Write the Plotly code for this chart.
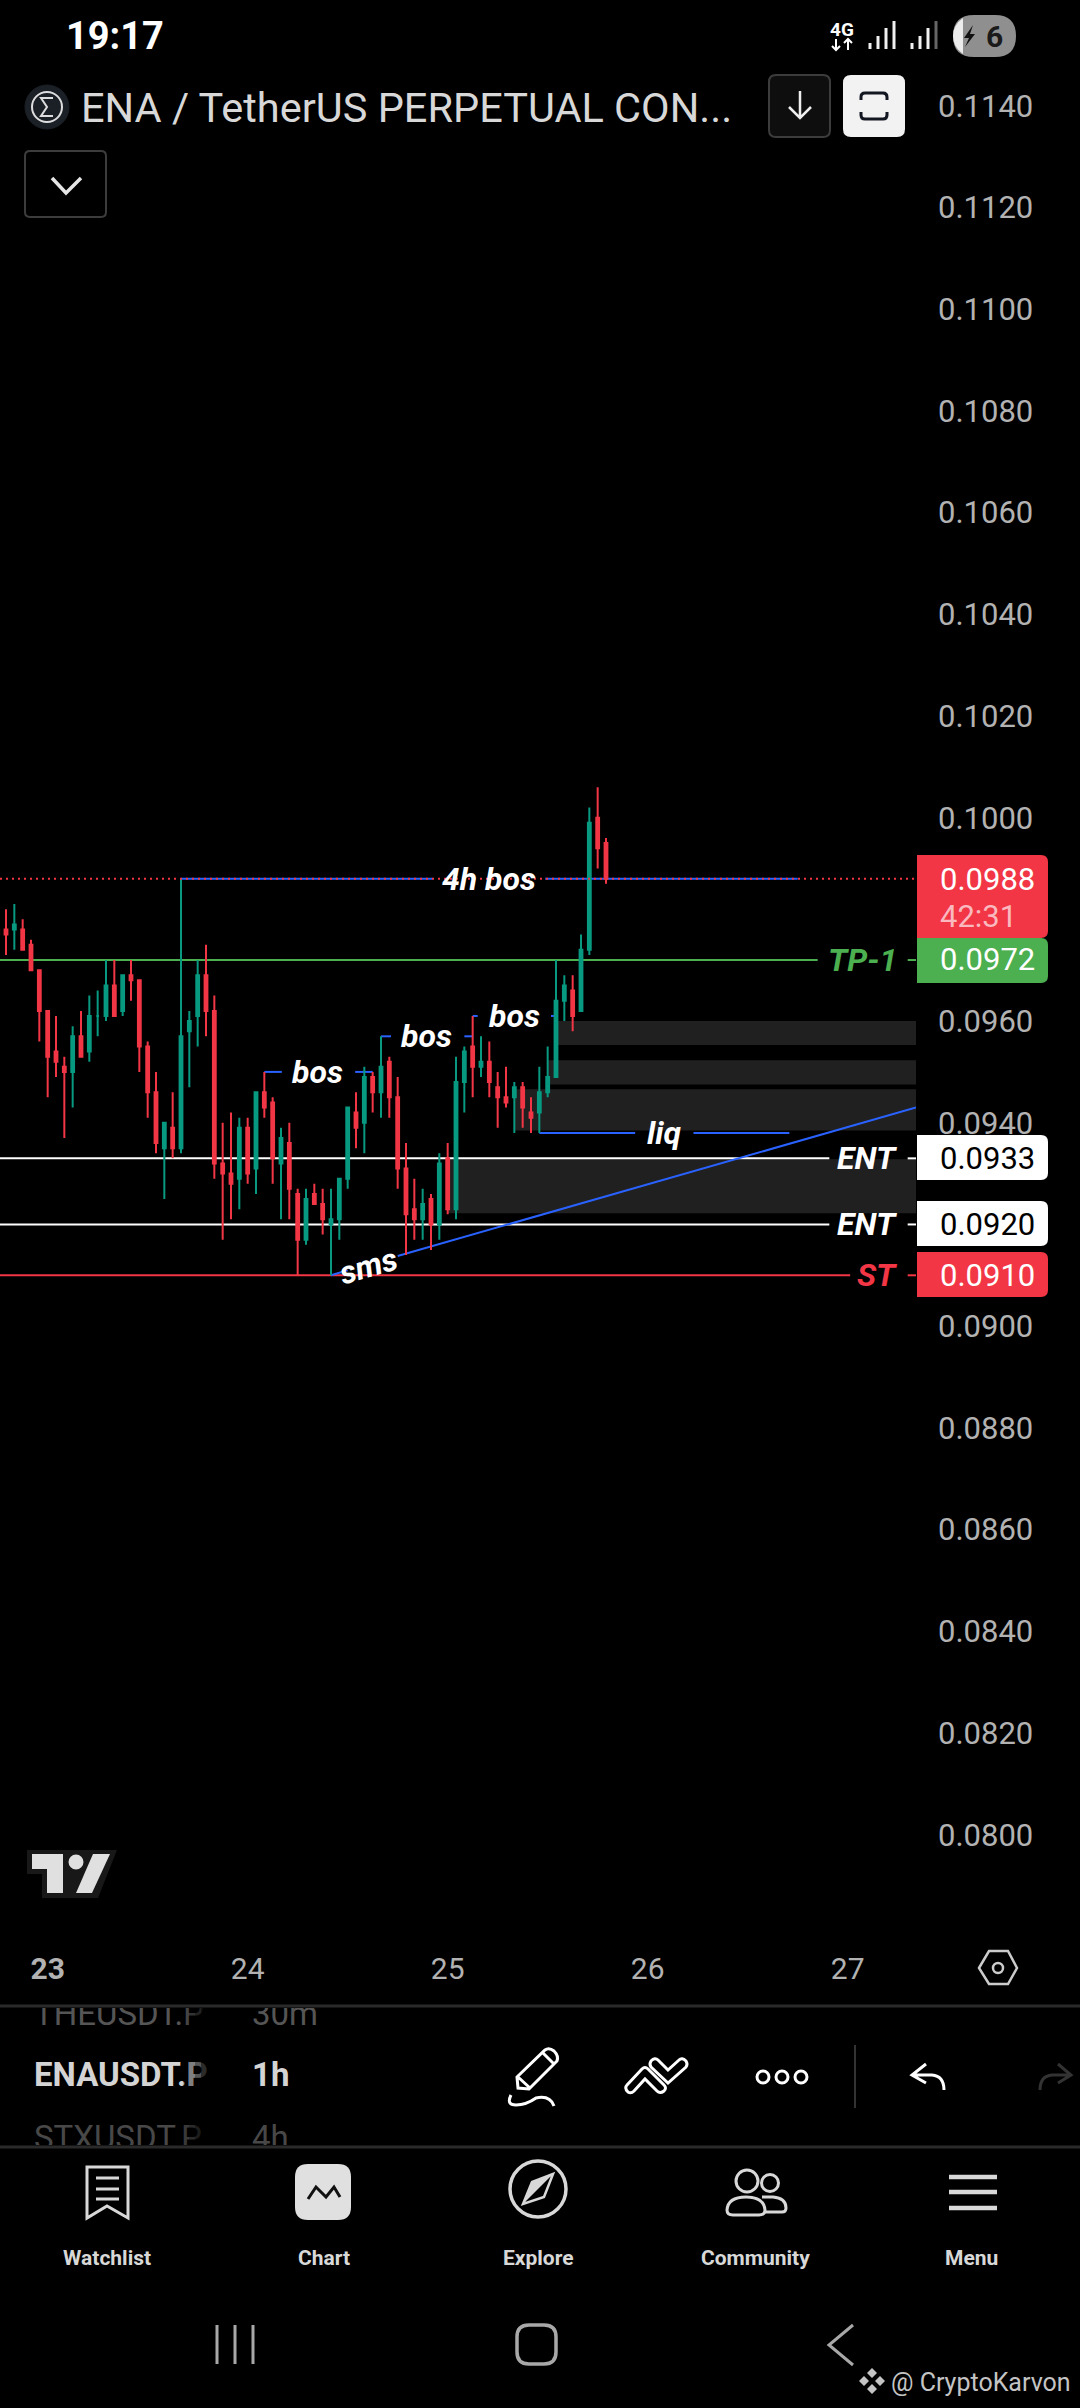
from datetime import datetime, timedelta
import pandas as pd
import plotly.graph_objects as go

W, H = 1080, 2408
PANE_R, PANE_B = 916, 1945

RED = '#F23645'
TEAL = '#089981'
GREEN = '#4CAF50'
BLUE = '#2962FF'
AXIS_GREY = '#b2b2b2'
FONT = 'Roboto'

# 1h candles, first one opens 22nd 18:00
opens = [0.0978, 0.0978, 0.0978, 0.0978, 0.0975, 0.0970, 0.0962, 0.0954, 0.0951, 0.0950,
         0.0957, 0.0954, 0.0961, 0.0961, 0.0967, 0.0962, 0.0969, 0.0968, 0.0955, 0.0946,
         0.0935, 0.0939, 0.0935, 0.0958, 0.0961, 0.0969, 0.0962, 0.0932, 0.0930, 0.0929,
         0.0939, 0.0931, 0.0946, 0.0944, 0.0932, 0.0936, 0.0926, 0.0917, 0.0926, 0.0924,
         0.0920, 0.0921, 0.0929, 0.0942, 0.0940, 0.0949, 0.0946, 0.0952, 0.0945, 0.0931,
         0.0923, 0.0921, 0.0925, 0.0920, 0.0933, 0.0923, 0.0948, 0.0955, 0.0951, 0.0952,
         0.0947, 0.0945, 0.0945, 0.0947, 0.0942, 0.0942, 0.0946, 0.0949, 0.0964, 0.0966,
         0.0962, 0.0974, 0.1000, 0.0995]
highs = [0.0980, 0.0982, 0.0983, 0.0980, 0.0976, 0.0970, 0.0962, 0.0961, 0.0953, 0.0959,
         0.0962, 0.0965, 0.0966, 0.0972, 0.0972, 0.0969, 0.0972, 0.0968, 0.0956, 0.0950,
         0.0940, 0.0946, 0.0988, 0.0962, 0.0972, 0.0975, 0.0965, 0.0940, 0.0942, 0.0941,
         0.0941, 0.0946, 0.0950, 0.0945, 0.0939, 0.0940, 0.0927, 0.0927, 0.0928, 0.0927,
         0.0927, 0.0929, 0.0943, 0.0946, 0.0951, 0.0950, 0.0957, 0.0953, 0.0949, 0.0936,
         0.0929, 0.0927, 0.0926, 0.0934, 0.0936, 0.0953, 0.0955, 0.0961, 0.0957, 0.0956,
         0.0950, 0.0951, 0.0948, 0.0948, 0.0945, 0.0951, 0.0955, 0.0972, 0.0969, 0.0969,
         0.0977, 0.1002, 0.1006, 0.0996]
lows = [0.0975, 0.0973, 0.0974, 0.0974, 0.0970, 0.0956, 0.0945, 0.0949, 0.0937, 0.0943,
        0.0953, 0.0952, 0.0957, 0.0960, 0.0961, 0.0961, 0.0964, 0.0950, 0.0941, 0.0934,
        0.0925, 0.0933, 0.0934, 0.0947, 0.0955, 0.0957, 0.0929, 0.0917, 0.0921, 0.0923,
        0.0928, 0.0926, 0.0941, 0.0928, 0.0921, 0.0921, 0.0910, 0.0916, 0.0924, 0.0918,
        0.0910, 0.0917, 0.0927, 0.0935, 0.0934, 0.0942, 0.0941, 0.0941, 0.0927, 0.0914,
        0.0917, 0.0917, 0.0915, 0.0917, 0.0922, 0.0921, 0.0942, 0.0945, 0.0949, 0.0945,
        0.0939, 0.0943, 0.0938, 0.0939, 0.0938, 0.0938, 0.0945, 0.0949, 0.0960, 0.0958,
        0.0962, 0.0973, 0.0990, 0.0987]
closes = [0.0977, 0.0977, 0.0979, 0.0974, 0.0970, 0.0962, 0.0953, 0.0952, 0.0950, 0.0957,
          0.0953, 0.0961, 0.0961, 0.0967, 0.0961, 0.0969, 0.0968, 0.0955, 0.0946, 0.0936,
          0.0940, 0.0935, 0.0957, 0.0960, 0.0969, 0.0962, 0.0932, 0.0930, 0.0928, 0.0939,
          0.0930, 0.0946, 0.0943, 0.0933, 0.0937, 0.0927, 0.0917, 0.0925, 0.0924, 0.0921,
          0.0921, 0.0929, 0.0943, 0.0939, 0.0949, 0.0946, 0.0951, 0.0945, 0.0931, 0.0922,
          0.0921, 0.0924, 0.0920, 0.0932, 0.0923, 0.0948, 0.0954, 0.0951, 0.0952, 0.0948,
          0.0945, 0.0944, 0.0947, 0.0943, 0.0941, 0.0946, 0.0949, 0.0964, 0.0967, 0.0961,
          0.0974, 0.0999, 0.0994, 0.0988]

# 0.0980 and 0.0920 sit behind the price badges in the reference, so they are left out
price_ticks = [0.1140, 0.1120, 0.1100, 0.1080, 0.1060, 0.1040, 0.1020, 0.1000,
               0.0960, 0.0940, 0.0900, 0.0880, 0.0860, 0.0840, 0.0820, 0.0800]
day_labels = ['<b>23</b>', '24', '25', '26', '27']
day_dates = ['2026-03-23', '2026-03-24', '2026-03-25', '2026-03-26', '2026-03-27']

# drawn levels
last_price = 0.0988
tp_price = 0.0972
ent_prices = [0.0933, 0.0920]
st_price = 0.0910
bos_prices = [0.0950, 0.0957, 0.0961]
liq_price = 0.0938

# grey zones: hours from the 23rd 00:00 where they start, top and bottom price
zone_hours = [61, 60, 56, 48]
zone_tops = [0.0960, 0.09523, 0.09466, 0.09328]
zone_bots = [0.09553, 0.09475, 0.09385, 0.09222]

trend_hours = [34, 36, None, 42, 104.2]
trend_prices = [0.0910, 0.0911, None, 0.09138, 0.0943]

watch_symbols = ['THEUSDT.P', '<b>ENAUSDT.P</b>', 'STXUSDT.P']
watch_intervals = ['30m', '<b>1h</b>', '4h']
watch_colors = ['#555555', '#d4d4d4', '#484848']
nav_labels = ['Watchlist', 'Chart', 'Explore', 'Community', 'Menu']


def at(h):
    if h is None:
        return None
    return datetime(2026, 3, 23) + timedelta(hours=h)


def px_to_price(py):
    return 0.0910 + (1275.3 - py) / 50850


x_left, x_right = -5.72, 104.2
times = pd.date_range('2026-03-22 18:00', periods=len(opens), freq='h')

fig = go.Figure()


def add_line(hours, prices, color, width=2, dash='solid', zorder=0):
    fig.add_trace(go.Scatter(x=[at(h) for h in hours], y=prices, mode='lines', zorder=zorder,
                             line=dict(color=color, width=width, dash=dash), hoverinfo='skip'))


for price, color, end in [(tp_price, GREEN, 92.4), (ent_prices[0], 'white', 93.8),
                          (ent_prices[1], 'white', 93.8), (st_price, RED, 96.3)]:
    add_line([x_left, end, None, 103.2, x_right], [price, price, None, price, price], color)

add_line([16, 46.2, None, 59.7, 90], [last_price, last_price, None, last_price, last_price], BLUE)
add_line([26, 28.1, None, 36.9, 39], [bos_prices[0]] * 2 + [None] + [bos_prices[0]] * 2, BLUE)
add_line([40, 41.2, None, 50, 51], [bos_prices[1]] * 2 + [None] + [bos_prices[1]] * 2, BLUE)
add_line([51, 51.6, None, 60.4, 61], [bos_prices[2]] * 2 + [None] + [bos_prices[2]] * 2, BLUE)
add_line([59, 70.5, None, 77.5, 89], [liq_price] * 2 + [None] + [liq_price] * 2, BLUE)
add_line(trend_hours, trend_prices, BLUE)

fig.add_trace(go.Candlestick(x=times, open=opens, high=highs, low=lows, close=closes, zorder=1,
                             increasing=dict(line=dict(color=TEAL, width=2), fillcolor=TEAL),
                             decreasing=dict(line=dict(color=RED, width=2), fillcolor=RED),
                             whiskerwidth=0, hoverinfo='skip'))

add_line([x_left, x_right], [last_price, last_price], RED, dash='2px,4px', zorder=2)

# watchlist rows, clipped by their own small subplots
fig.add_trace(go.Scatter(x=[34, 34, 34], y=[2017, 2078, 2141], text=watch_symbols, mode='text',
                         textposition='middle right', xaxis='x2', yaxis='y2', hoverinfo='skip',
                         textfont=dict(family=FONT, size=33, color=watch_colors)))
fig.add_trace(go.Scatter(x=[252, 252, 252], y=[2017, 2078, 2141], text=watch_intervals, mode='text',
                         textposition='middle right', xaxis='x3', yaxis='y3', hoverinfo='skip',
                         textfont=dict(family=FONT, size=33, color=watch_colors)))

shapes = []
annotations = []

for h, top, bot in zip(zone_hours, zone_tops, zone_bots):
    shapes.append(dict(type='rect', xref='x', yref='y', layer='below', x0=at(h), x1=at(x_right),
                       y0=bot, y1=top, fillcolor='#202020', line_width=0))


def path(d):
    out = []
    is_x = True
    for tok in d.split():
        if tok.isalpha():
            out.append(tok)
        else:
            v = float(tok)
            out.append(f'{v / W:.6f}' if is_x else f'{1 - v / H:.6f}')
            is_x = not is_x
    return ' '.join(out)


def stroke(d, color='white', width=3, fill=None):
    shapes.append(dict(type='path', xref='paper', yref='paper', path=path(d), layer='above',
                       fillcolor=fill or 'rgba(0,0,0,0)',
                       line=dict(color=color, width=width)))


def solid(d, fill):
    shapes.append(dict(type='path', xref='paper', yref='paper', path=path(d), layer='above',
                       fillcolor=fill, line_width=0))


def rrect(x0, y0, x1, y1, r, left=True):
    # left=False keeps the left corners square, like the price badges
    rl = r if left else 0
    return (f'M {x0 + rl} {y0} L {x1 - r} {y0} Q {x1} {y0} {x1} {y0 + r} L {x1} {y1 - r} '
            f'Q {x1} {y1} {x1 - r} {y1} L {x0 + rl} {y1} Q {x0} {y1} {x0} {y1 - rl} '
            f'L {x0} {y0 + rl} Q {x0} {y0} {x0 + rl} {y0} Z')


def circle(cx, cy, r, color='white', width=3, fill=None):
    shapes.append(dict(type='circle', xref='paper', yref='paper', layer='above',
                       x0=(cx - r) / W, x1=(cx + r) / W, y0=1 - (cy + r) / H, y1=1 - (cy - r) / H,
                       fillcolor=fill or 'rgba(0,0,0,0)', line=dict(color=color, width=width)))


def text(s, px, py, size, color, anchor='left', bold=False):
    annotations.append(dict(text=f'<b>{s}</b>' if bold else s, xref='paper', yref='paper',
                            x=px / W, y=1 - py / H, xanchor=anchor, yanchor='middle',
                            showarrow=False, font=dict(family=FONT, size=size, color=color)))


def chart_label(s, h, price, color='white', anchor='center', angle=0):
    annotations.append(dict(text=f'<b><i>{s}</i></b>', xref='x', yref='y', x=at(h), y=price,
                            xanchor=anchor, yanchor='middle', showarrow=False, textangle=angle,
                            font=dict(family=FONT, size=32, color=color)))


chart_label('4h bos', 53, last_price)
chart_label('bos', 32.4, bos_prices[0])
chart_label('bos', 45.5, bos_prices[1])
chart_label('bos', 56, bos_prices[2])
chart_label('liq', 74, liq_price)
chart_label('sms', 38.5, 0.09118, angle=-16)
chart_label('TP-1', 102.2, tp_price, GREEN, 'right')
chart_label('ENT', 102.2, ent_prices[0], 'white', 'right')
chart_label('ENT', 102.2, ent_prices[1], 'white', 'right')
chart_label('ST', 102.2, st_price, RED, 'right')

# price badges
solid(rrect(917, 855, 1048, 938, 7, left=False), RED)
solid(rrect(917, 938, 1048, 983, 7, left=False), GREEN)
solid(rrect(917, 1135, 1048, 1180, 7, left=False), 'white')
solid(rrect(917, 1201, 1048, 1246, 7, left=False), 'white')
solid(rrect(917, 1252, 1048, 1297, 7, left=False), RED)
text(f'{last_price:.4f}', 938, 879, 31, 'white')
text('42:31', 938, 916, 31, '#f9b9bf')
text(f'{tp_price:.4f}', 938, 960, 31, 'white')
text(f'{ent_prices[0]:.4f}', 938, 1158, 31, 'black')
text(f'{ent_prices[1]:.4f}', 938, 1224, 31, 'black')
text(f'{st_price:.4f}', 938, 1275, 31, 'white')

# status bar
text('19:17', 64, 36, 38, 'white', bold=True)
text('4G', 842, 29, 19, 'white', 'center', bold=True)
stroke('M 836 39 L 836 50 M 832 46 L 836 50 L 840 46', 'white', 2)
stroke('M 848 39 L 848 50 M 844 43 L 848 39 L 852 43', 'white', 2)
stroke('M 870 49 L 870 43 M 878 49 L 878 36 M 886 49 L 886 28 M 894 49 L 894 21', '#f0f0f0', 3)
stroke('M 912 49 L 912 43 M 920 49 L 920 36 M 928 49 L 928 28', '#f0f0f0', 3)
stroke('M 936 49 L 936 21', '#666666', 3)
solid(rrect(953, 15, 1016, 57, 21), '#8f8f8f')
solid('M 963 18 Q 953 25 953 36 Q 953 47 963 54 Z', '#ececec')
solid('M 973 25 L 964 38 L 969 38 L 965 47 L 975 34 L 970 34 Z', '#111111')
text('6', 994, 37, 30, '#1a1a1a', 'center', bold=True)

# header
circle(47, 107, 22, '#1b1f26', 1, '#1b1f26')
circle(47, 107, 15, '#dddddd', 2)
stroke('M 53 98 L 41 98 L 47 107 L 41 116 L 53 116', '#dddddd', 2)
text('ENA / TetherUS PERPETUAL CON...', 79, 107, 41.5, '#d8d8d8')
stroke(rrect(769, 75, 830, 137, 7), '#3c3c3c', 2, '#0e0e0e')
stroke('M 800 91 L 800 118 M 789 107 L 800 118 L 811 107', '#eeeeee', 2.5)
solid(rrect(843, 75, 905, 137, 8), '#f2f2f2')
stroke('M 861 100 L 861 97 Q 861 93 865 93 L 883 93 Q 887 93 887 97 L 887 100 '
       'M 861 112 L 861 115 Q 861 119 865 119 L 883 119 Q 887 119 887 115 L 887 112', '#131722', 3)
stroke(rrect(25, 151, 106, 217, 5), '#3c3c3c', 2)
stroke('M 52 178 L 66 193 L 81 178', '#e6e6e6', 3.5)

# tradingview logo
solid('M 27 1850 L 117 1850 L 98 1898 L 42 1898 L 42 1874 L 27 1874 Z', '#181818')
solid('M 32 1854 L 63 1854 L 63 1893 L 47 1893 L 47 1869 L 32 1869 Z', '#e0e0e0')
circle(76, 1862, 7.5, '#e0e0e0', 0, '#e0e0e0')
solid('M 93 1854 L 110 1854 L 92 1893 L 76 1893 Z', '#e0e0e0')

# settings hexagon on the date axis
stroke('M 979 1968 L 989 1951 L 1008 1951 L 1017 1968 L 1008 1984 L 989 1984 Z', '#cccccc', 2.5)
circle(998, 1968, 5, '#cccccc', 2.5)

# toolbar
stroke(f'M 0 2006 L {W} 2006', '#2a2a2a', 3)
stroke(f'M 0 2147 L {W} 2147', '#2a2a2a', 3)
# fade on the right of the symbol column
for i, alpha in enumerate([0.2, 0.4, 0.6, 0.8]):
    solid(f'M {183 + 6 * i} 2008 L {189 + 6 * i} 2008 L {189 + 6 * i} 2145 L {183 + 6 * i} 2145 Z',
          f'rgba(0,0,0,{alpha})')
stroke('M 518 2088 L 517 2077 L 545 2050 Q 549 2047 554 2051 Q 559 2056 557 2061 L 529 2089 Z '
       'M 543 2053 L 553 2063 M 518 2077 L 530 2088', 'white', 3)
stroke('M 511 2095 Q 506 2105 516 2105 Q 526 2105 536 2098 Q 550 2095 554 2106', 'white', 3)
stroke('M 627 2085 L 642 2069 Q 645 2066 648 2069 L 664 2085 Q 667 2088 664 2091 Q 660 2094 657 2091 '
       'L 645 2079 L 634 2091 Q 631 2094 628 2092 Q 624 2088 627 2085 Z', 'white', 3)
stroke('M 651 2061 Q 655 2057 658 2060 L 668 2070 L 679 2060 Q 682 2057 686 2061 Q 688 2064 686 2067 '
       'L 668 2083 L 651 2067 Q 649 2064 651 2061 Z', 'white', 3)
circle(763, 2077, 6)
circle(782, 2077, 6)
circle(801, 2077, 6)
stroke('M 855 2045 L 855 2108', '#333333', 2)
stroke('M 926 2064 L 912 2075 L 926 2083 M 912 2075 L 932 2075 Q 944 2076 944 2090', 'white', 3)
stroke('M 1058 2064 L 1071 2075 L 1058 2083 M 1071 2075 L 1052 2075 Q 1040 2076 1040 2090', '#333333', 3)

# bottom nav
stroke('M 87 2167 L 128 2167 L 128 2218 L 107 2206 L 87 2218 Z', '#d8d8d8', 3)
stroke('M 96 2178 L 119 2178 M 96 2189 L 119 2189 M 96 2199 L 119 2199', '#d8d8d8', 3)
solid(rrect(295, 2164, 351, 2220, 13), '#e0e0e0')
stroke('M 308 2199 L 316 2187 L 326 2197 L 334 2187 L 340 2197', '#111111', 3)
circle(538, 2189, 28, '#d8d8d8', 3.5)
stroke('M 553 2174 L 544 2197 L 523 2204 L 532 2182 Z', '#d8d8d8', 2.5)
solid('M 553 2174 L 532 2182 L 523 2204 Z', '#d8d8d8')
circle(747, 2181, 11, '#d8d8d8', 3)
circle(770, 2183, 8.5, '#d8d8d8', 3)
stroke('M 733 2215 Q 727 2215 727 2210 Q 728 2197 746 2197 Q 764 2197 765 2210 Q 765 2215 759 2215 Z',
       '#d8d8d8', 3)
stroke('M 762 2197 L 773 2197 Q 786 2198 786 2208 Q 786 2212 782 2212 L 765 2212', '#d8d8d8', 3)
stroke('M 949 2177 L 997 2177 M 949 2192 L 997 2192 M 949 2208 L 997 2208', '#d8d8d8', 4.5)
for label, cx in zip(nav_labels, [107, 324, 538, 755, 971]):
    text(label, cx, 2258, 21, '#d8d8d8', 'center', bold=True)

# android nav
stroke('M 217 2325 L 217 2364 M 235 2325 L 235 2364 M 253 2325 L 253 2364', '#a8a8a8', 3)
stroke(rrect(517, 2325, 556, 2364, 12), '#a8a8a8', 3.5)
stroke('M 853 2325 L 829 2345 L 853 2365', '#a8a8a8', 3)

# watermark
for cx, cy in [(872, 2373), (864, 2381), (880, 2381), (872, 2389)]:
    solid(f'M {cx} {cy - 5} L {cx + 5} {cy} L {cx} {cy + 5} L {cx - 5} {cy} Z', '#c4c4c4')
text('@ CryptoKarvon', 889, 2382, 25, '#c4c4c4')

fig.update_layout(
    width=W, height=H, margin=dict(l=0, r=0, t=0, b=0), autosize=False,
    paper_bgcolor='black', plot_bgcolor='black', showlegend=False, hovermode=False,
    boxgap=0.52, shapes=shapes, annotations=annotations,
    xaxis=dict(domain=[0, PANE_R / W], range=[at(x_left), at(x_right)], type='date',
               rangeslider=dict(visible=False), showgrid=False, zeroline=False, showline=False,
               tickmode='array', tickvals=day_dates, ticktext=day_labels, ticks='',
               ticklabelstandoff=3,
               tickfont=dict(family=FONT, size=30, color=AXIS_GREY), tickangle=0),
    yaxis=dict(domain=[1 - PANE_B / H, 1], range=[px_to_price(PANE_B), px_to_price(0)],
               side='right', anchor='x', showgrid=False, zeroline=False, showline=False,
               tickmode='array', tickvals=price_ticks, ticktext=[f'{p:.4f}' for p in price_ticks],
               ticks='', ticklabelstandoff=21,
               tickfont=dict(family=FONT, size=31, color=AXIS_GREY)),
    xaxis2=dict(domain=[0, 207 / W], range=[0, 207], visible=False),
    yaxis2=dict(domain=[1 - 2145 / H, 1 - 2008 / H], range=[2145, 2008], visible=False, anchor='x2'),
    xaxis3=dict(domain=[207 / W, 432 / W], range=[207, 432], visible=False),
    yaxis3=dict(domain=[1 - 2145 / H, 1 - 2008 / H], range=[2145, 2008], visible=False, anchor='x3'),
)

fig.write_html('out.html', config=dict(displayModeBar=False),
               post_script="document.body.style.margin='0';")
